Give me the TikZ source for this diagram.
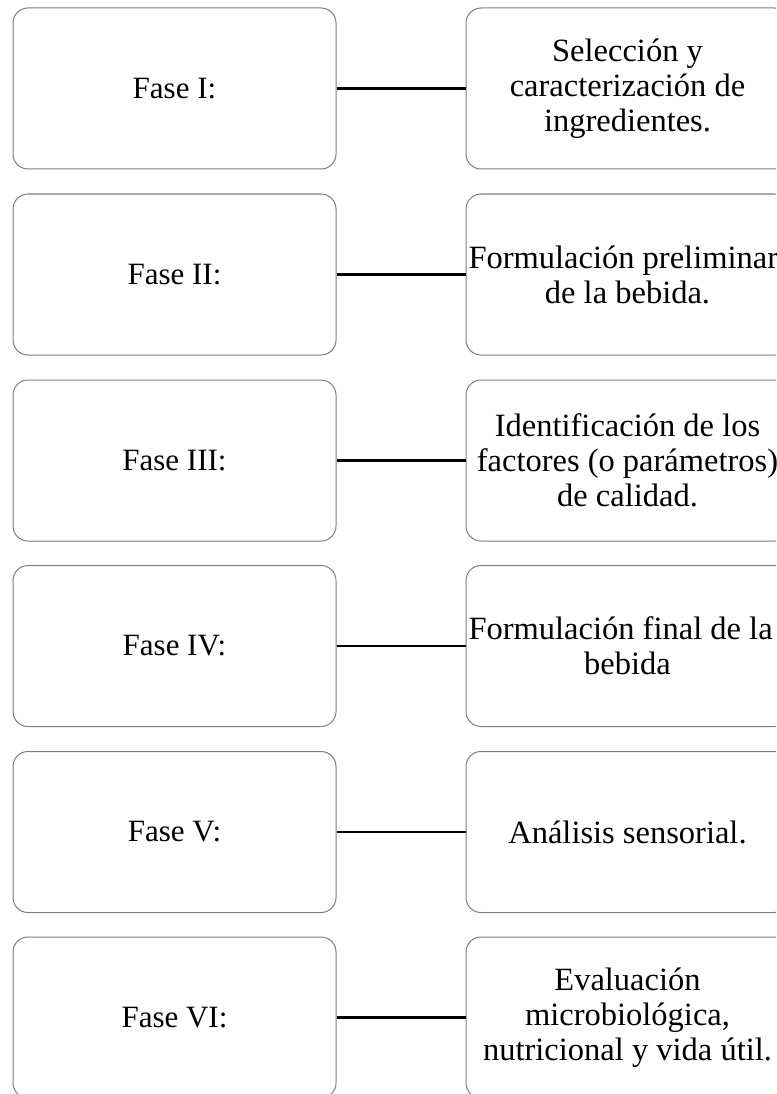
\documentclass[tikz,border=0pt]{standalone}
\usepackage{fontspec}
\setmainfont{Liberation Serif}
\definecolor{boxgray}{HTML}{7F7F7F}
\newcommand{\flushline}[1]{\makebox[\linewidth][l]{#1}}
\tikzset{
  phasebox/.style={draw=boxgray, line width=1pt, rounded corners=15pt, fill=white,
    text width=318pt, inner xsep=2.5pt, inner ysep=0pt, minimum height=161pt, align=flush center},
  leftbox/.style={phasebox, font=\fontsize{31}{34}\selectfont},
  rightbox/.style={phasebox, font=\fontsize{32.5}{35}\selectfont},
  link/.style={draw=black, line width=2.4pt}
}
\begin{document}
\begin{tikzpicture}[x=1pt,y=-1pt]
\useasboundingbox (0,0) rectangle (776,1094);
\clip (0,0) rectangle (776,1094);
\node[leftbox] (l1) at (174.5,88.5) {Fase I:};
\node[rightbox] (r1) at (627.5,88.5) {Selección y\\caracterización de\\ingredientes.};
\node[leftbox] (l2) at (174.5,274.5) {Fase II:};
\node[rightbox] (r2) at (627.5,274.5) {\flushline{Formulación preliminar}\\de la bebida.};
\node[leftbox] (l3) at (174.5,460.5) {Fase III:};
\node[rightbox] (r3) at (627.5,460.5) {Identificación de los\\factores (o parámetros)\\de calidad.};
\node[leftbox] (l4) at (174.5,646) {Fase IV:};
\node[rightbox] (r4) at (627.5,646) {\flushline{Formulación final de la}\\bebida};
\node[leftbox] (l5) at (174.5,832) {Fase V:};
\node[rightbox] (r5) at (627.5,832) {Análisis sensorial.};
\node[leftbox] (l6) at (174.5,1017.5) {Fase VI:};
\node[rightbox] (r6) at (627.5,1017.5) {Evaluación\\microbiológica,\\nutricional y vida útil.};
\foreach \i in {1,...,6} {
  \draw[link] (l\i.east) -- (r\i.west);
}
\end{tikzpicture}
\end{document}
